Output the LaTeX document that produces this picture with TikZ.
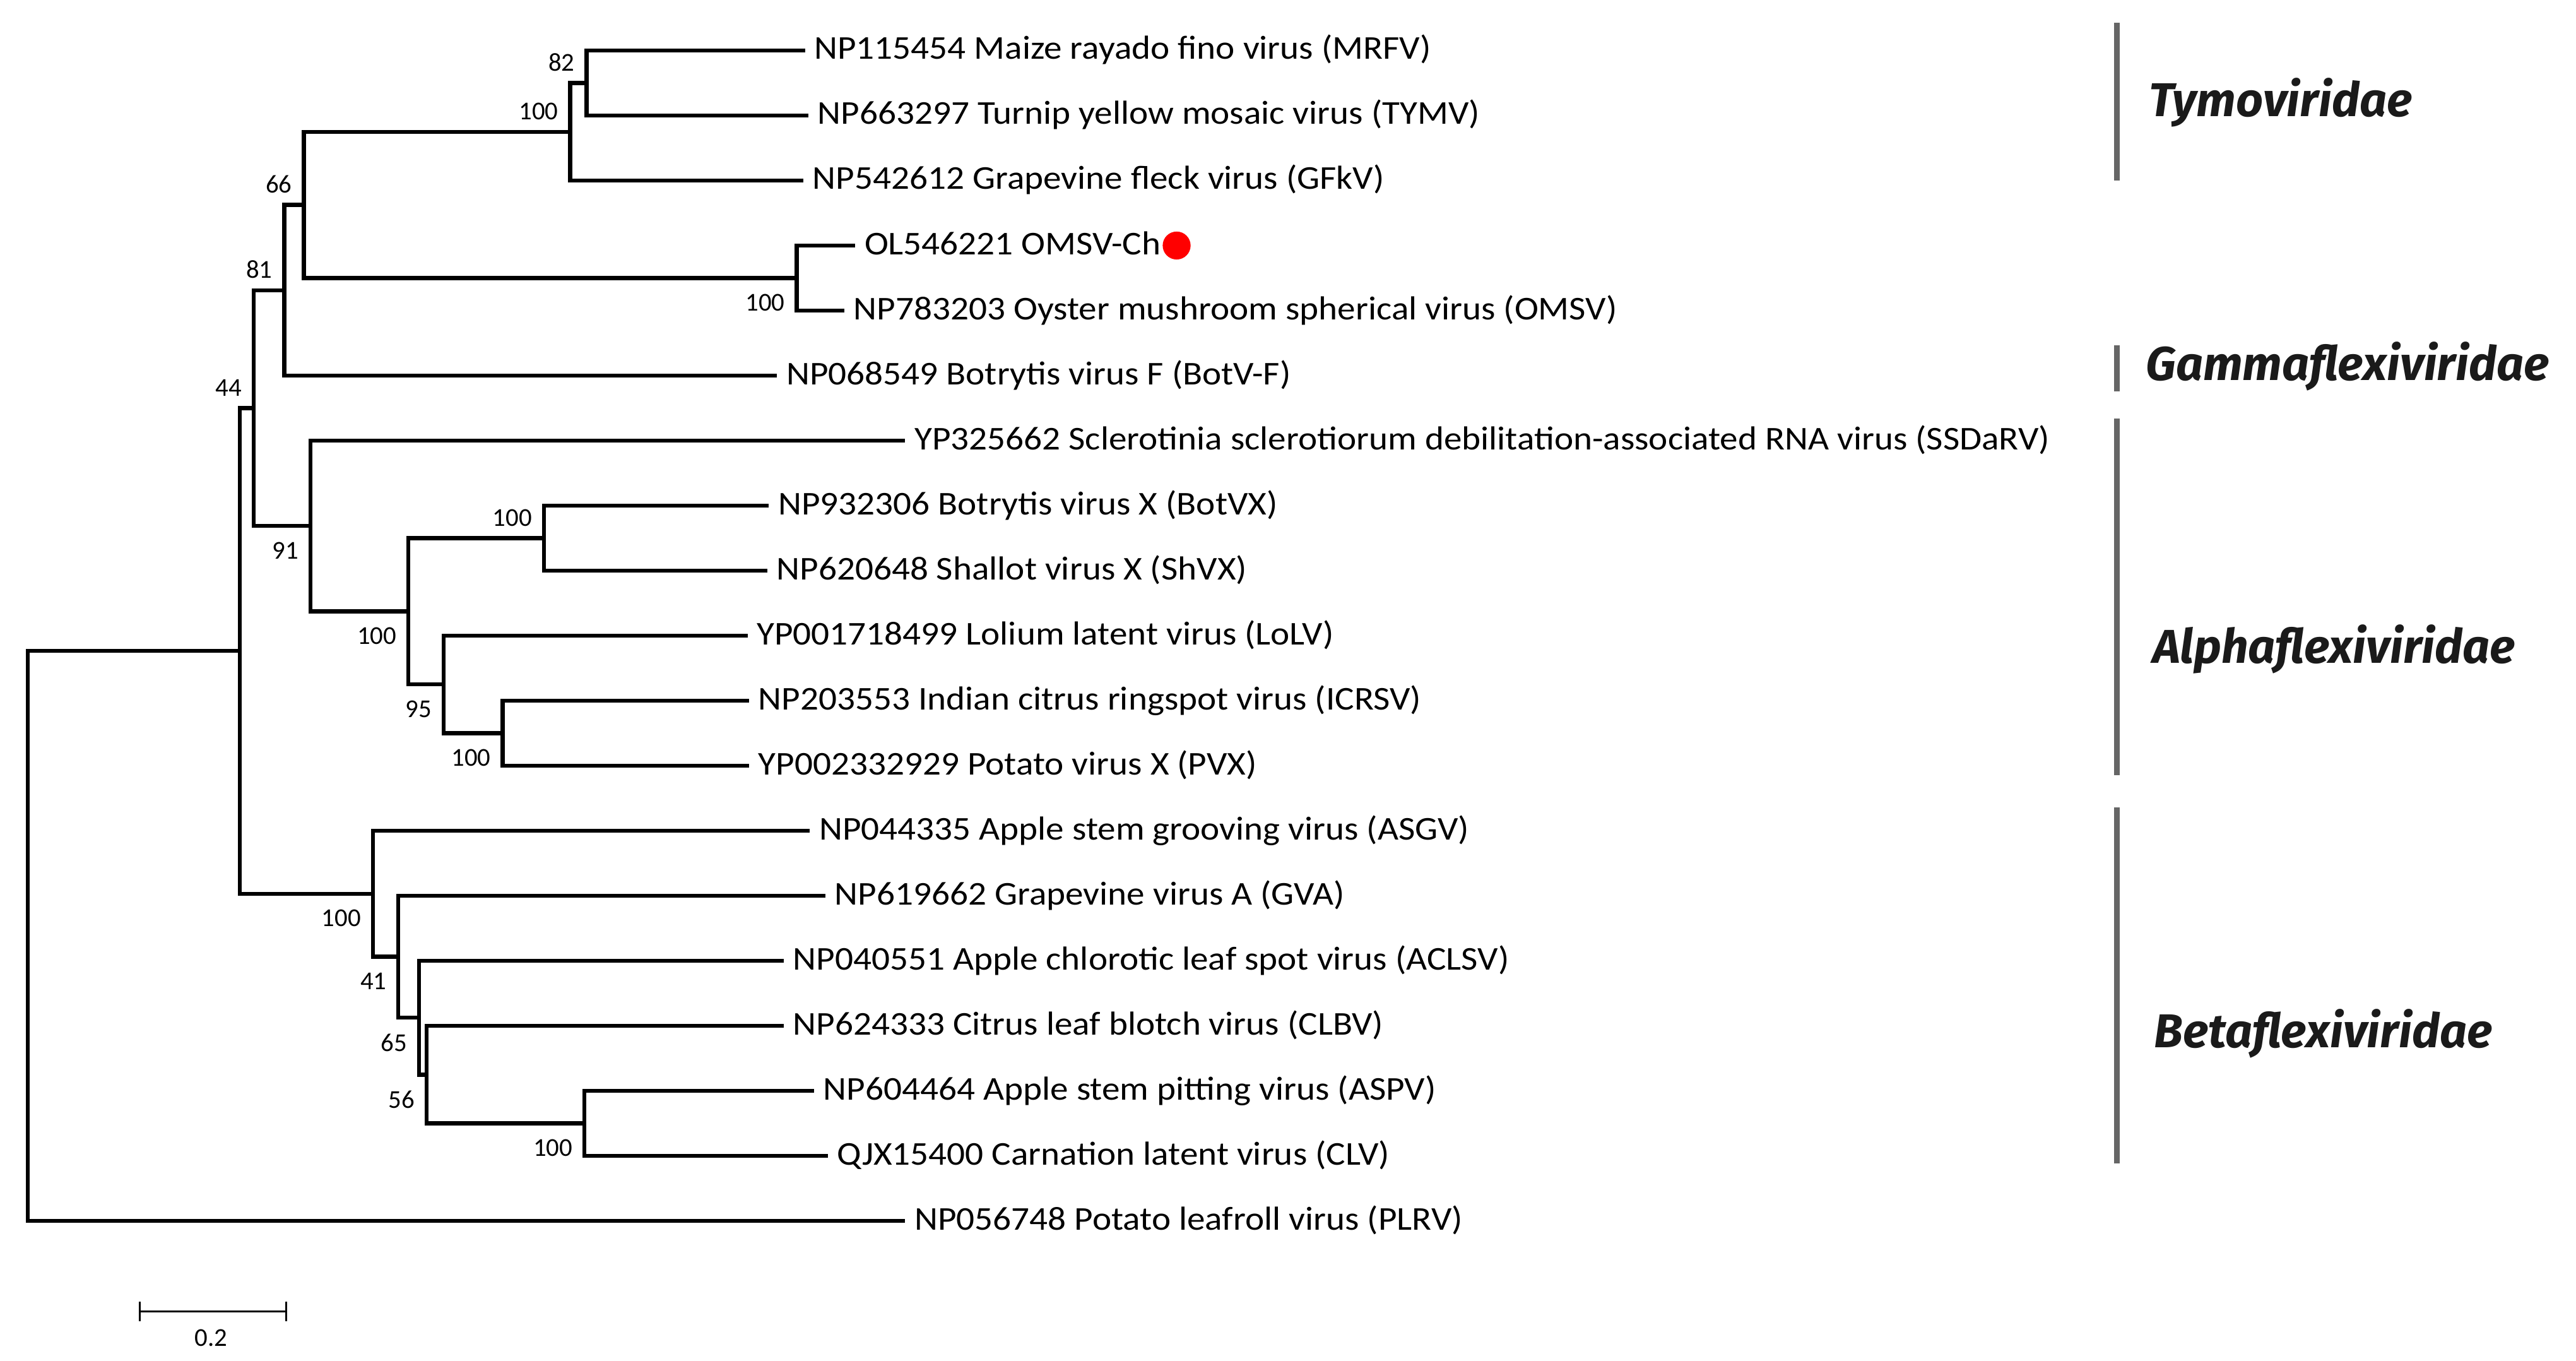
\documentclass[tikz,border=0pt]{standalone}
\usepackage{fontspec}
\setmainfont{Carlito}
\newfontfamily\leaffont[FakeStretch=1.085]{Carlito}
\newfontfamily\famfont{Fira Sans}
\usepackage{tikz}
\usetikzlibrary{positioning}
\definecolor{treeblack}{HTML}{000000}
\definecolor{bargray}{HTML}{666666}
\definecolor{famink}{HTML}{1A1A1A}
\definecolor{dotred}{HTML}{FF0000}
\newcommand{\fsLeaf}{\leaffont\fontsize{15}{18}\selectfont}
\newcommand{\fsBoot}{\fontsize{11.6}{13}\selectfont}
\newcommand{\fsFam}{\famfont\fontsize{21.4}{25}\selectfont\bfseries\itshape}

\begin{document}
\begin{tikzpicture}[x=0.26033mm, y=-0.26033mm,
  branch/.style={draw=treeblack, line width=1.8pt},
  leaf/.style={font=\fsLeaf, inner ysep=0pt, inner xsep=4pt, text height=11pt, text depth=3pt},
  boot/.style={font=\fsBoot, inner sep=0pt},
  fambar/.style={draw=bargray, line width=2.6pt},
  fam/.style={font=\fsFam, text=famink, inner sep=0pt, anchor=base west}]
  \useasboundingbox (0,0) rectangle (1568,828);

  % leaves: row, end of branch, label
  \foreach \i/\x/\name in {
      0/490/{NP115454 Maize rayado fino virus (MRFV)},
      1/492/{NP663297 Turnip yellow mosaic virus (TYMV)},
      2/489/{NP542612 Grapevine fleck virus (GFkV)},
      3/520.6/{OL546221 OMSV-Ch},
      4/514/{NP783203 Oyster mushroom spherical virus (OMSV)},
      5/473/{NP068549 Botrytis virus F (BotV-F)},
      6/551/{YP325662 Sclerotinia sclerotiorum debilitation-associated RNA virus (SSDaRV)},
      7/468/{NP932306 Botrytis virus X (BotVX)},
      8/467/{NP620648 Shallot virus X (ShVX)},
      9/455/{YP001718499 Lolium latent virus (LoLV)},
      10/456/{NP203553 Indian citrus ringspot virus (ICRSV)},
      11/456/{YP002332929 Potato virus X (PVX)},
      12/493/{NP044335 Apple stem grooving virus (ASGV)},
      13/502.5/{NP619662 Grapevine virus A (GVA)},
      14/477/{NP040551 Apple chlorotic leaf spot virus (ACLSV)},
      15/477/{NP624333 Citrus leaf blotch virus (CLBV)},
      16/495.6/{NP604464 Apple stem pitting virus (ASPV)},
      17/504/{QJX15400 Carnation latent virus (CLV)},
      18/551/{NP056748 Potato leafroll virus (PLRV)}}{
    \coordinate (l\i) at (\x, {30.7+39.57*\i});
    \node[leaf, right=0pt of l\i] (t\i) {\name};
  }
  \node[circle, fill=dotred, inner sep=0pt, minimum size=12.6pt, right=-3.5pt of t3] (mark) {};

  % internal nodes
  \coordinate (nA) at (357, 50.49);
  \coordinate (nB) at (347, 80.17);
  \coordinate (nC) at (485, 169.2);
  \coordinate (nD) at (185, 124.68);
  \coordinate (nE) at (173, 176.62);
  \coordinate (nF) at (331, 327.48);
  \coordinate (nG) at (306, 446.19);
  \coordinate (nH) at (270, 416.51);
  \coordinate (nI) at (248.6, 371.99);
  \coordinate (nJ) at (189, 320.05);
  \coordinate (nK) at (154.5, 248.34);
  \coordinate (nT) at (355.7, 683.6);
  \coordinate (nU) at (259.7, 653.93);
  \coordinate (nV) at (255, 619.3);
  \coordinate (nW) at (242.5, 582.2);
  \coordinate (nX) at (227, 543.87);
  \coordinate (nY) at (146, 396.1);
  \coordinate (root) at (17, 569.53);

  % branches
  \draw[branch] (root) |- (nY) (root) |- (t18.west);
  \draw[branch] (nY) |- (nK) (nY) |- (nX);
  \draw[branch] (nK) |- (nE) (nK) |- (nJ);
  \draw[branch] (nE) |- (nD) (nE) |- (t5.west);
  \draw[branch] (nD) |- (nB) (nD) |- (nC);
  \draw[branch] (nB) |- (nA) (nB) |- (t2.west);
  \draw[branch] (nA) |- (t0.west) (nA) |- (t1.west);
  \draw[branch] (nC) |- (t3.west) (nC) |- (t4.west);
  \draw[branch] (nJ) |- (t6.west) (nJ) |- (nI);
  \draw[branch] (nI) |- (nF) (nI) |- (nH);
  \draw[branch] (nF) |- (t7.west) (nF) |- (t8.west);
  \draw[branch] (nH) |- (t9.west) (nH) |- (nG);
  \draw[branch] (nG) |- (t10.west) (nG) |- (t11.west);
  \draw[branch] (nX) |- (t12.west) (nX) |- (nW);
  \draw[branch] (nW) |- (t13.west) (nW) |- (nV);
  \draw[branch] (nV) |- (t14.west) (nV) |- (nU);
  \draw[branch] (nU) |- (t15.west) (nU) |- (nT);
  \draw[branch] (nT) |- (t16.west) (nT) |- (t17.west);

  % bootstrap values
  \node[boot, above left=5.2pt and 5.2pt of nA] (bA) {82};
  \node[boot, above left=5.2pt and 5.2pt of nB] (bB) {100};
  \node[boot, above left=5.2pt and 5.2pt of nD] (bD) {66};
  \node[boot, above left=5.2pt and 5.2pt of nE] (bE) {81};
  \node[boot, above left=5.2pt and 5.2pt of nK] (bK) {44};
  \node[boot, above left=5.2pt and 5.2pt of nF] (bF) {100};
  \node[boot, below left=7.1pt and 5.2pt of nC] (bC) {100};
  \node[boot, below left=7.1pt and 5.2pt of nJ] (bJ) {91};
  \node[boot, below left=7.1pt and 5.2pt of nI] (bI) {100};
  \node[boot, below left=7.1pt and 5.2pt of nH] (bH) {95};
  \node[boot, below left=7.1pt and 5.2pt of nG] (bG) {100};
  \node[boot, below left=7.1pt and 5.2pt of nX] (bX) {100};
  \node[boot, below left=7.1pt and 5.2pt of nW] (bW) {41};
  \node[boot, below left=7.1pt and 5.2pt of nV] (bV) {65};
  \node[boot, below left=7.1pt and 5.2pt of nU] (bU) {56};
  \node[boot, below left=7.1pt and 5.2pt of nT] (bT) {100};

  % families
  \draw[fambar] (1288.6,14) -- (1288.6,110);
  \draw[fambar] (1288.6,210) -- (1288.6,238);
  \draw[fambar] (1288.6,254.8) -- (1288.6,471.8);
  \draw[fambar] (1288.6,491.4) -- (1288.6,708);
  \node[fam] (tymo) at (1308,71) {Tymoviridae};
  \node[fam] (gamma) at (1306,231.5) {Gammaflexiviridae};
  \node[fam] (alpha) at (1310,403.7) {Alphaflexiviridae};
  \node[fam] (beta) at (1311,637.6) {Betaflexiviridae};

  % scale bar
  \coordinate (sb0) at (85,798);
  \coordinate (sb1) at (174.2,798);
  \draw[line width=0.8pt] (sb0) -- (sb1);
  \draw[line width=0.8pt] ([yshift=4.5pt]sb0) -- ([yshift=-4.5pt]sb0);
  \draw[line width=0.8pt] ([yshift=4.5pt]sb1) -- ([yshift=-4.5pt]sb1);
  \node[boot] (sblabel) at (128.6,814) {0.2};
\end{tikzpicture}
\end{document}
